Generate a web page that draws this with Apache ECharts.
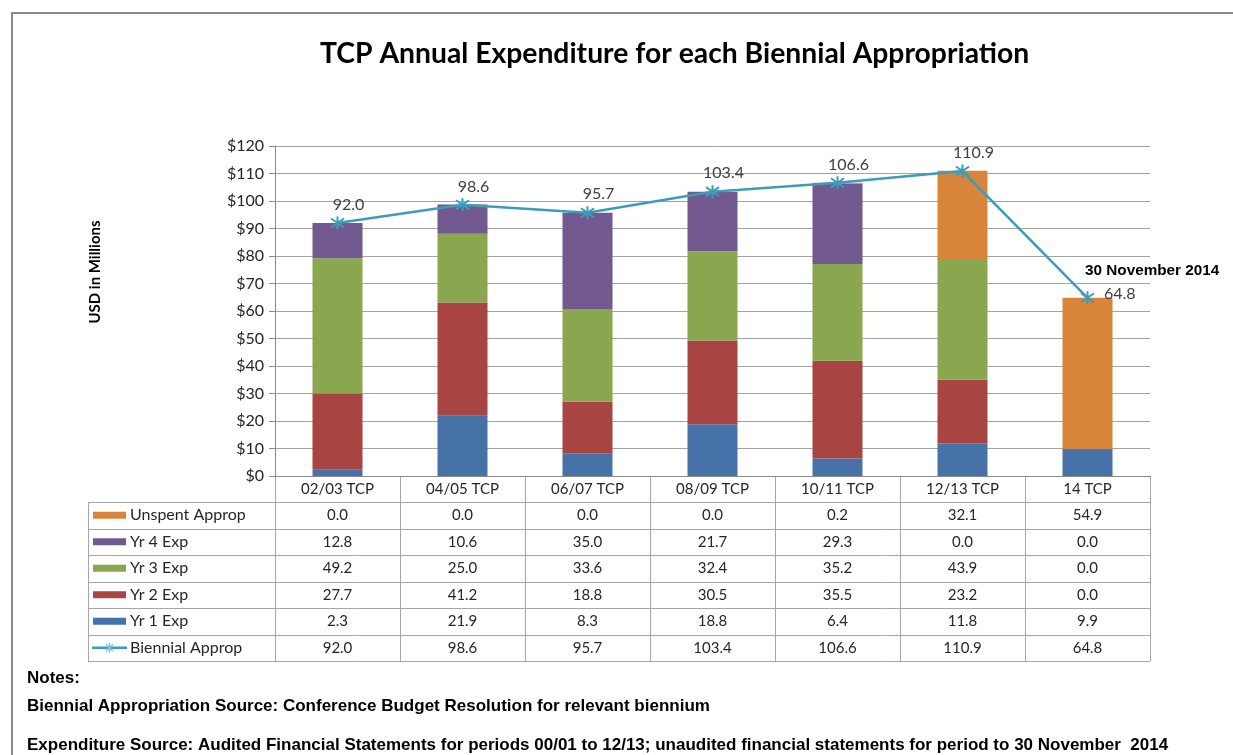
<!DOCTYPE html>
<html>
<head>
<meta charset="utf-8">
<title>TCP Annual Expenditure</title>
<script src="https://cdn.jsdelivr.net/npm/echarts@6/dist/echarts.min.js"></script>
<style>
  html, body { margin: 0; padding: 0; background: #fff; }
  #chart { width: 1233px; height: 755px; }
</style>
</head>
<body>
<div id="chart"></div>
<script>
// chart data (USD in millions)
var categories = ['02/03 TCP', '04/05 TCP', '06/07 TCP', '08/09 TCP', '10/11 TCP', '12/13 TCP', '14 TCP']
var yr1Exp = [2.3, 21.9, 8.3, 18.8, 6.4, 11.8, 9.9]
var yr2Exp = [27.7, 41.2, 18.8, 30.5, 35.5, 23.2, 0.0]
var yr3Exp = [49.2, 25.0, 33.6, 32.4, 35.2, 43.9, 0.0]
var yr4Exp = [12.8, 10.6, 35.0, 21.7, 29.3, 0.0, 0.0]
var unspent = [0.0, 0.0, 0.0, 0.0, 0.2, 32.1, 54.9]
var biennial = [92.0, 98.6, 95.7, 103.4, 106.6, 110.9, 64.8]
var yMin = 0
var yMax = 120
var yStep = 10

var FONT = 'Lato'
var ARIAL = '"Liberation Sans", Arial'
var colors = {
  unspent: '#d9843b',
  yr4: '#725990',
  yr3: '#8aa64f',
  yr2: '#a84442',
  yr1: '#4672a8',
  line: '#3d9db8'
}
var STAR = 'path://M1.5,1.5L8.5,8.5M8.5,1.5L1.5,8.5M5,0L5,10'

var chart = echarts.init(document.getElementById('chart'))

function barSeries(name, data, color) {
  return {
    name: name,
    type: 'bar',
    stack: 'total',
    barWidth: '40%',
    data: data,
    itemStyle: { color: color },
    emphasis: { disabled: true }
  }
}

var option = {
  animation: false,
  textStyle: { fontFamily: FONT },
  title: {
    text: 'TCP Annual Expenditure for each Biennial Appropriation',
    left: 315,
    top: 35,
    textStyle: { fontFamily: FONT, fontWeight: 'bold', fontSize: 28.3, color: '#000' }
  },
  grid: { left: 275, right: 83, top: 146, bottom: 279, containLabel: false },
  xAxis: {
    type: 'category',
    data: categories,
    axisLine: { lineStyle: { color: '#8a8a8a', width: 1 } },
    axisTick: { show: false },
    axisLabel: { margin: 6, fontSize: 15, color: '#262626', fontFamily: FONT }
  },
  yAxis: {
    type: 'value',
    min: yMin,
    max: yMax,
    interval: yStep,
    axisLine: { show: true, lineStyle: { color: '#8a8a8a' } },
    axisTick: { show: true, length: 6, lineStyle: { color: '#8a8a8a' } },
    axisLabel: {
      margin: 11,
      fontSize: 16,
      color: '#262626',
      fontFamily: FONT,
      formatter: function (v) { return '$' + v }
    },
    splitLine: { lineStyle: { color: '#a3a3a3', width: 1 } }
  },
  series: [
    barSeries('Yr 1 Exp', yr1Exp, colors.yr1),
    barSeries('Yr 2 Exp', yr2Exp, colors.yr2),
    barSeries('Yr 3 Exp', yr3Exp, colors.yr3),
    barSeries('Yr 4 Exp', yr4Exp, colors.yr4),
    barSeries('Unspent Approp', unspent, colors.unspent),
    {
      name: 'Biennial Approp',
      type: 'line',
      z: 5,
      data: biennial.map(function (v, i) {
        var item = { value: v }
        if (i === biennial.length - 1) {
          item.label = { position: 'right', distance: 9, offset: [0, -4] }
        }
        return item
      }),
      symbol: STAR,
      symbolSize: 13,
      lineStyle: { color: colors.line, width: 2.5 },
      itemStyle: { color: colors.line, borderColor: colors.line, borderWidth: 2 },
      label: {
        show: true,
        position: 'top',
        distance: 3,
        offset: [11, 0],
        fontSize: 16,
        color: '#404040',
        fontFamily: FONT,
        formatter: function (p) { return p.value.toFixed(1) }
      },
      emphasis: { disabled: true }
    }
  ]
}
chart.setOption(option)

// data table under the plot, aligned with the category axis
var centers = categories.map(function (c, i) {
  return chart.convertToPixel({ xAxisIndex: 0 }, i)
})
var colW = centers[1] - centers[0]
var tableLeft = 88
var plotLeft = centers[0] - colW / 2
var plotRight = centers[centers.length - 1] + colW / 2
var axisY = chart.convertToPixel({ yAxisIndex: 0 }, 0)
var headBottom = 502
var rowH = 26.5

var rows = [
  { name: 'Unspent Approp', data: unspent, color: colors.unspent },
  { name: 'Yr 4 Exp', data: yr4Exp, color: colors.yr4 },
  { name: 'Yr 3 Exp', data: yr3Exp, color: colors.yr3 },
  { name: 'Yr 2 Exp', data: yr2Exp, color: colors.yr2 },
  { name: 'Yr 1 Exp', data: yr1Exp, color: colors.yr1 },
  { name: 'Biennial Approp', data: biennial, color: colors.line, line: true }
]
var tableBottom = headBottom + rows.length * rowH
var gridLine = { stroke: '#a6a6a6', lineWidth: 1 }

function seg(x1, y1, x2, y2, style) {
  return { type: 'line', shape: { x1: x1, y1: y1, x2: x2, y2: y2 }, style: style, silent: true }
}

var els = []
// outer chart border
els.push({
  type: 'rect',
  shape: { x: 12, y: 13, width: 1300, height: 800 },
  style: { fill: 'none', stroke: '#8c8c8c', lineWidth: 2 },
  silent: true
})
// horizontal table lines
for (var r = 0; r <= rows.length; r++) {
  var y = Math.round(headBottom + r * rowH) + 0.5
  els.push(seg(tableLeft, y, plotRight, y, gridLine))
}
// vertical table lines
els.push(seg(tableLeft + 0.5, headBottom, tableLeft + 0.5, tableBottom, gridLine))
for (var k = 0; k <= categories.length; k++) {
  var x = Math.round(plotLeft + k * colW) + 0.5
  els.push(seg(x, axisY, x, tableBottom, gridLine))
}
// rows
rows.forEach(function (row, r) {
  var cy = headBottom + r * rowH + rowH / 2
  if (row.line) {
    var starStyle = { stroke: '#7cc3da', lineWidth: 1.5 }
    els.push(seg(92, cy, 127, cy, { stroke: row.color, lineWidth: 2.5 }))
    els.push(seg(106, cy - 3.5, 113, cy + 3.5, starStyle))
    els.push(seg(113, cy - 3.5, 106, cy + 3.5, starStyle))
    els.push(seg(109.5, cy - 5, 109.5, cy + 5, starStyle))
  } else {
    els.push({ type: 'rect', shape: { x: 93, y: cy - 3.5, width: 33, height: 7 }, style: { fill: row.color }, silent: true })
  }
  els.push({
    type: 'text',
    x: 130, y: cy,
    style: { text: row.name, font: '16px ' + FONT, fill: '#262626', textVerticalAlign: 'middle' },
    silent: true
  })
  row.data.forEach(function (v, i) {
    els.push({
      type: 'text',
      x: centers[i], y: cy,
      style: { text: v.toFixed(1), font: '15px ' + FONT, fill: '#262626', textAlign: 'center', textVerticalAlign: 'middle' },
      silent: true
    })
  })
})
// y axis title
els.push({
  type: 'text',
  x: 95, y: 272,
  rotation: Math.PI / 2,
  style: { text: 'USD in Millions', font: 'bold 15px ' + FONT, fill: '#000', textAlign: 'center', textVerticalAlign: 'middle' },
  silent: true
})
// annotation for last point
els.push({
  type: 'text',
  x: 1085, y: 271,
  style: { text: '30 November 2014', font: 'bold 15.3px ' + ARIAL, fill: '#000', textVerticalAlign: 'middle' },
  silent: true
})
// notes
var notes = [
  ['Notes:', 678],
  ['Biennial Appropriation Source: Conference Budget Resolution for relevant biennium', 706],
  ['Expenditure Source: Audited Financial Statements for periods 00/01 to 12/13; unaudited financial statements for period to 30 November  2014', 745]
]
notes.forEach(function (n) {
  els.push({
    type: 'text',
    x: 27, y: n[1],
    style: { text: n[0], font: 'bold 17px ' + ARIAL, fill: '#000', textVerticalAlign: 'middle' },
    silent: true
  })
})

chart.setOption({ graphic: els })
</script>
</body>
</html>
